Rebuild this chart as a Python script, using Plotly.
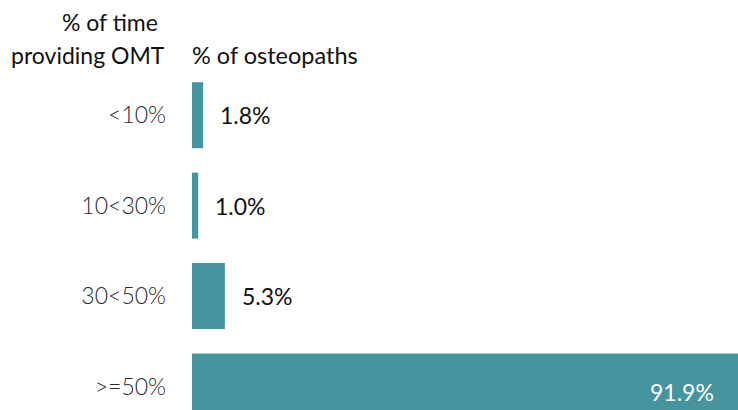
import plotly.graph_objects as go

categories = ["<10%", "10<30%", "30<50%", ">=50%"]
values = [1.8, 1.0, 5.3, 91.9]
labels = ["1.8%", "1.0%", "5.3%", "91.9%"]

BAR = "#46959E"
XMAX = 88.0
FONT = "Lato"

fig = go.Figure(go.Bar(
    x=values, y=categories, orientation="h",
    marker=dict(color=BAR, line=dict(width=0)),
    hoverinfo="skip", cliponaxis=True,
))

ann = []
for c, v, t in zip(categories, values, labels):
    if v < XMAX * 0.5:
        ann.append(dict(x=v, y=c, xref="x", yref="y", text=t, showarrow=False,
                        xanchor="left", xshift=15,
                        font=dict(family=FONT, size=23, color="#111111")))
    else:
        ann.append(dict(x=min(v, XMAX), y=c, xref="x", yref="y", text=t, showarrow=False,
                        xanchor="right", xshift=-22, yshift=-6,
                        font=dict(family=FONT, size=23, color="#ffffff")))

ann.append(dict(x=-82 / 546, y=1, xref="paper", yref="paper", yanchor="middle", xanchor="center",
                yshift=48, text="% of time", showarrow=False,
                font=dict(family=FONT, size=23, color="#111111")))
ann.append(dict(x=-104 / 546, y=1, xref="paper", yref="paper", yanchor="middle", xanchor="center",
                yshift=15, text="providing OMT", showarrow=False,
                font=dict(family=FONT, size=23, color="#111111")))
ann.append(dict(x=0, y=1, xref="paper", yref="paper", xanchor="left", yanchor="middle",
                yshift=15, xshift=-2, text="% of osteopaths", showarrow=False,
                font=dict(family=FONT, size=23.5, color="#111111")))

fig.update_layout(
    width=738, height=410,
    margin=dict(l=192, r=0, t=70, b=0),
    paper_bgcolor="white", plot_bgcolor="white",
    bargap=0.27, showlegend=False,
    annotations=ann,
    xaxis=dict(range=[0, XMAX], visible=False, fixedrange=True),
    yaxis=dict(range=[3.26, -0.5], showline=False, showgrid=False, zeroline=False,
               ticks="", ticklabelstandoff=25, fixedrange=True,
               tickfont=dict(family=FONT, size=23, color="#2a2a2a", weight=300)),
)

fig.write_html(
    "out.html",
    config={"displayModeBar": False, "staticPlot": True},
    post_script="document.body.style.margin='0';document.body.style.overflow='hidden';",
)
